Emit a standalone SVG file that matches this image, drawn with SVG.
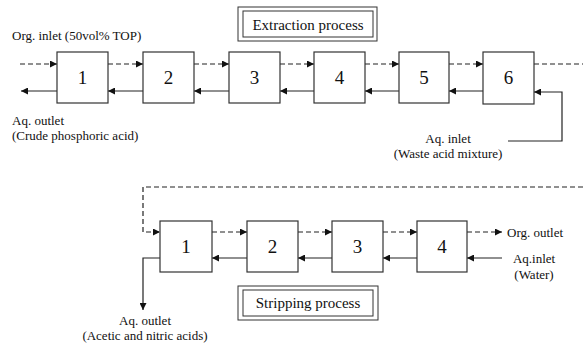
<svg xmlns="http://www.w3.org/2000/svg" width="583" height="345" viewBox="0 0 583 345">
  <style>
    .box { fill: #fff; stroke: #333; stroke-width: 1.2; }
    .num { font-family: "Liberation Serif", "Times New Roman", serif; font-size: 19px; fill: #111; text-anchor: middle; }
    .lbl { font-family: "Liberation Serif", "Times New Roman", serif; font-size: 13px; fill: #111; }
    .title { font-family: "Liberation Serif", "Times New Roman", serif; font-size: 15px; fill: #111; text-anchor: middle; }
    .frame { fill: #fff; stroke: #333; stroke-width: 1; }
    .org { fill: none; stroke: #222; stroke-width: 1.2; stroke-dasharray: 5 3; }
    .aq { fill: none; stroke: #222; stroke-width: 1.2; }
  </style>
  <defs>
    <marker id="arr" viewBox="0 0 10 10" refX="10" refY="5" markerWidth="8" markerHeight="7" markerUnits="userSpaceOnUse" orient="auto">
      <path d="M0,0 L10,5 L0,10 Z" fill="#111"/>
    </marker>
  </defs>

  <rect width="583" height="345" fill="#fff"/>

  <!-- Extraction process title -->
  <g id="extraction-title">
    <rect class="frame" x="238" y="7" width="139" height="34"/>
    <rect class="frame" x="243" y="11" width="130" height="26"/>
    <text class="title" x="308" y="30">Extraction process</text>
  </g>

  <!-- Stripping process title -->
  <g id="stripping-title">
    <rect class="frame" x="238" y="286" width="140" height="34"/>
    <rect class="frame" x="243" y="290" width="130" height="26"/>
    <text class="title" x="308" y="308">Stripping process</text>
  </g>

  <!-- Connectors -->
  <g id="connectors">
    <!-- extraction: organic (dashed) left to right -->
    <line class="org" x1="20" y1="64" x2="57" y2="64" marker-end="url(#arr)"/>
    <line class="org" x1="108" y1="64" x2="143" y2="64" marker-end="url(#arr)"/>
    <line class="org" x1="194" y1="64" x2="229" y2="64" marker-end="url(#arr)"/>
    <line class="org" x1="280" y1="64" x2="314" y2="64" marker-end="url(#arr)"/>
    <line class="org" x1="365" y1="64" x2="399" y2="64" marker-end="url(#arr)"/>
    <line class="org" x1="449" y1="64" x2="483" y2="64" marker-end="url(#arr)"/>
    <line class="org" x1="534" y1="64" x2="583" y2="64"/>
    <!-- extraction: aqueous (solid) right to left -->
    <line class="aq" x1="57" y1="91" x2="21" y2="91" marker-end="url(#arr)"/>
    <line class="aq" x1="143" y1="91" x2="108" y2="91" marker-end="url(#arr)"/>
    <line class="aq" x1="229" y1="91" x2="194" y2="91" marker-end="url(#arr)"/>
    <line class="aq" x1="314" y1="91" x2="280" y2="91" marker-end="url(#arr)"/>
    <line class="aq" x1="399" y1="91" x2="365" y2="91" marker-end="url(#arr)"/>
    <line class="aq" x1="483" y1="91" x2="449" y2="91" marker-end="url(#arr)"/>
    <polyline class="aq" points="508,141 562,141 562,92 534,92" marker-end="url(#arr)"/>

    <!-- stripping: organic (dashed) -->
    <polyline class="org" points="583,187 143,187 143,232 160,232" marker-end="url(#arr)"/>
    <line class="org" x1="212" y1="232" x2="247" y2="232" marker-end="url(#arr)"/>
    <line class="org" x1="298" y1="232" x2="332" y2="232" marker-end="url(#arr)"/>
    <line class="org" x1="383" y1="232" x2="417" y2="232" marker-end="url(#arr)"/>
    <line class="org" x1="467" y1="232" x2="502" y2="232" marker-end="url(#arr)"/>
    <!-- stripping: aqueous (solid) -->
    <line class="aq" x1="502" y1="258" x2="467" y2="258" marker-end="url(#arr)"/>
    <line class="aq" x1="417" y1="258" x2="383" y2="258" marker-end="url(#arr)"/>
    <line class="aq" x1="332" y1="258" x2="298" y2="258" marker-end="url(#arr)"/>
    <line class="aq" x1="247" y1="258" x2="212" y2="258" marker-end="url(#arr)"/>
    <polyline class="aq" points="160,258 143,258 143,310" marker-end="url(#arr)"/>
  </g>

  <!-- Extraction stages -->
  <g id="ext-1"><rect class="box" x="57" y="52" width="51" height="51"/><text class="num" x="82.5" y="84">1</text></g>
  <g id="ext-2"><rect class="box" x="143" y="52" width="51" height="51"/><text class="num" x="168.5" y="84">2</text></g>
  <g id="ext-3"><rect class="box" x="229" y="52" width="51" height="51"/><text class="num" x="254.5" y="84">3</text></g>
  <g id="ext-4"><rect class="box" x="314" y="52" width="51" height="51"/><text class="num" x="339.5" y="84">4</text></g>
  <g id="ext-5"><rect class="box" x="399" y="52" width="50" height="51"/><text class="num" x="424" y="84">5</text></g>
  <g id="ext-6"><rect class="box" x="483" y="52" width="51" height="52"/><text class="num" x="508.5" y="84">6</text></g>

  <!-- Stripping stages -->
  <g id="str-1"><rect class="box" x="160" y="221" width="52" height="51"/><text class="num" x="186" y="253">1</text></g>
  <g id="str-2"><rect class="box" x="247" y="221" width="51" height="51"/><text class="num" x="272.5" y="253">2</text></g>
  <g id="str-3"><rect class="box" x="332" y="221" width="51" height="51"/><text class="num" x="357.5" y="253">3</text></g>
  <g id="str-4"><rect class="box" x="417" y="221" width="50" height="51"/><text class="num" x="442" y="253">4</text></g>

  <!-- Stream labels -->
  <g id="labels">
    <text class="lbl" x="12" y="40">Org. inlet (50vol% TOP)</text>
    <text class="lbl" x="12" y="125">Aq. outlet</text>
    <text class="lbl" x="12" y="140">(Crude phosphoric acid)</text>
    <text class="lbl" x="448" y="143" text-anchor="middle">Aq. inlet</text>
    <text class="lbl" x="448" y="158" text-anchor="middle">(Waste acid mixture)</text>
    <text class="lbl" x="507" y="237">Org. outlet</text>
    <text class="lbl" x="534" y="263" text-anchor="middle">Aq.inlet</text>
    <text class="lbl" x="534" y="279" text-anchor="middle">(Water)</text>
    <text class="lbl" x="145" y="325" text-anchor="middle">Aq. outlet</text>
    <text class="lbl" x="145" y="340" text-anchor="middle">(Acetic and nitric acids)</text>
  </g>
</svg>
